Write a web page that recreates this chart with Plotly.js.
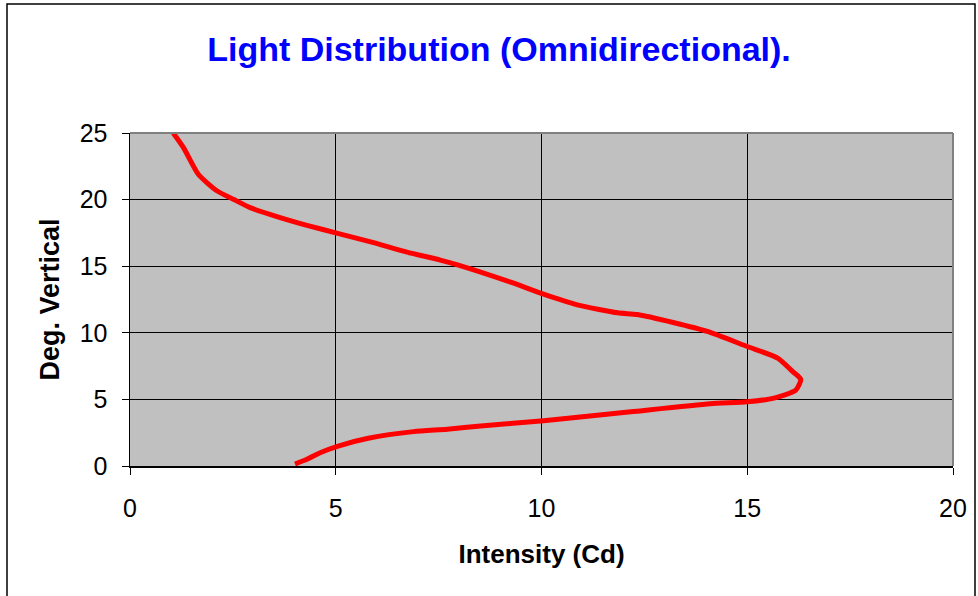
<!DOCTYPE html>
<html>
<head>
<meta charset="utf-8">
<script src="https://cdn.plot.ly/plotly-3.0.1.min.js"></script>
<style>html,body{margin:0;padding:0;background:#fff;}#chart{width:978px;height:596px;}</style>
</head>
<body>
<div id="chart"></div>
<script>
// Intensity (Cd) vs vertical angle (deg)
const intensity = [4.01, 4.3, 4.62, 5.06, 5.79, 6.89, 7.71, 8.52, 10.05, 12.17, 14.1, 15.0, 15.65, 16.18, 16.3, 16.1, 15.74, 15.0, 14.03, 13.2, 12.33, 11.85, 10.87, 10.05, 9.25, 7.96, 7.54, 6.73, 5.92, 5.07, 4.3, 3.57, 2.92, 2.51, 2.11, 1.66, 1.3, 1.05];
const degrees   = [0.15, 0.5, 1.0, 1.5, 2.08, 2.58, 2.76, 3.01, 3.4, 4.07, 4.67, 4.82, 5.1, 5.7, 6.5, 7.1, 8.1, 8.97, 10.1, 10.77, 11.37, 11.5, 12.1, 12.9, 13.8, 15.1, 15.46, 16.06, 16.77, 17.45, 18.07, 18.73, 19.4, 20.03, 20.66, 21.9, 23.9, 25.0];
const xTicks = [0, 5, 10, 15, 20];
const yTicks = [0, 5, 10, 15, 20, 25];
const chartTitle = "Light Distribution (Omnidirectional).";
const xTitle = "Intensity (Cd)";
const yTitle = "Deg. Vertical";

const FONT = "Arial, 'Liberation Sans', sans-serif";

const trace = {
  x: intensity,
  y: degrees,
  type: 'scatter',
  mode: 'lines',
  line: {color: '#FF0000', width: 5, shape: 'spline', smoothing: 0.6},
  hoverinfo: 'x+y'
};

const L = 130, R = 953, T = 133, B = 466;
const W = R - L, H = B - T;
function px(xp){ return (xp - L) / W; }
function py(yp){ return (B - yp) / H; }

const layout = {
  width: 978, height: 596,
  margin: {l: L, r: 978 - R, t: T, b: 596 - B},
  paper_bgcolor: '#FFFFFF',
  plot_bgcolor: '#C0C0C0',
  showlegend: false,
  title: {
    text: chartTitle,
    font: {family: FONT, size: 34, color: '#0000FF', weight: 'bold'},
    x: 499/978, xref: 'container', xanchor: 'center',
    y: 1 - 49/596, yref: 'container', yanchor: 'middle'
  },
  xaxis: {
    range: [0, 20], tickvals: xTicks, ticktext: xTicks.map(String),
    showgrid: true, gridcolor: '#000000', gridwidth: 1,
    zeroline: false, showline: true, linecolor: '#000000', linewidth: 1.5,
    ticks: 'outside', ticklen: 7, tickcolor: '#000000', tickwidth: 1,
    ticklabelstandoff: 12,
    tickfont: {family: FONT, size: 25, color: '#000000'},
    title: {text: xTitle, font: {family: FONT, size: 26, color: '#000000', weight: 'bold'}, standoff: 24},
    fixedrange: true
  },
  yaxis: {
    range: [0, 25], tickvals: yTicks, ticktext: yTicks.map(String),
    showgrid: true, gridcolor: '#000000', gridwidth: 1,
    zeroline: false, showline: true, linecolor: '#000000', linewidth: 1.5,
    ticks: 'outside', ticklen: 7, tickcolor: '#000000', tickwidth: 1,
    ticklabelstandoff: 9,
    tickfont: {family: FONT, size: 25, color: '#000000'},
    title: {text: yTitle, font: {family: FONT, size: 27, color: '#000000', weight: 'bold'}, standoff: 12},
    fixedrange: true
  },
  shapes: [
    {type: 'line', xref: 'paper', yref: 'paper', x0: 0, x1: 1, y0: 1, y1: 1, line: {color: '#808080', width: 2}, layer: 'above'},
    {type: 'line', xref: 'paper', yref: 'paper', x0: 1, x1: 1, y0: 0, y1: 1, line: {color: '#808080', width: 2}, layer: 'above'},
    {type: 'rect', xref: 'paper', yref: 'paper', x0: px(7), x1: px(975), y0: py(620), y1: py(4), line: {color: '#000000', width: 1.5}, fillcolor: 'rgba(0,0,0,0)', layer: 'above'}
  ]
};

Plotly.newPlot('chart', [trace], layout, {displayModeBar: false, staticPlot: true});
</script>
</body>
</html>
